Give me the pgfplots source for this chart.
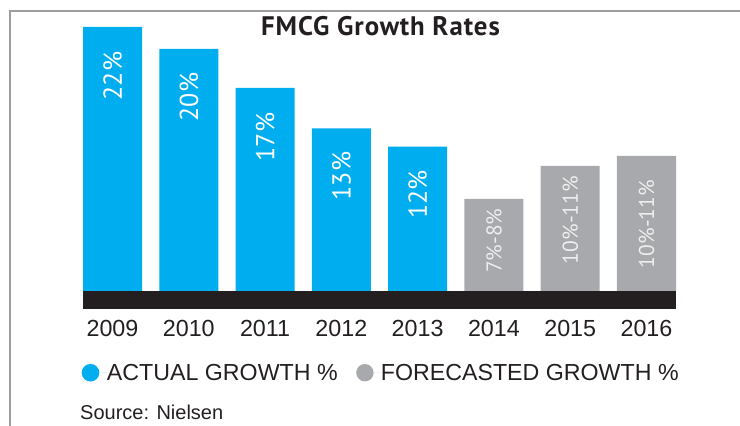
\documentclass[border=0pt]{standalone}
\usepackage{pgfplots}
\pgfplotsset{compat=1.18}
\usepackage{fontspec}
\setmainfont{Liberation Sans}
\newfontfamily\ptsans{PT Sans}
\newfontfamily\titlefont[LetterSpace=3.5]{PT Sans}
\definecolor{actual}{HTML}{00AEEF}
\definecolor{fcast}{HTML}{A7A9AC}
\definecolor{ink}{HTML}{231F20}
\definecolor{framec}{HTML}{9D9D9D}
\definecolor{lbl}{HTML}{EEEEEE}
\begin{document}
\begin{tikzpicture}
\draw[framec, line width=2.5pt] (10pt,-5pt) -- (10pt,415pt) -- (750pt,415pt);
\begin{axis}[
  at={(74.36pt,117pt)}, anchor=south west, scale only axis,
  width=610.28pt, height=294pt,
  xmin=-0.5, xmax=7.5, ymin=-1.5, ymax=23,
  clip=false,
  axis line style={draw=none},
  tick style={draw=none},
  ytick=\empty,
  xtick={0,...,7},
  xticklabels={2009,2010,2011,2012,2013,2014,2015,2016},
  xticklabel style={font=\fontsize{23.3}{28}\selectfont, text=ink, inner sep=0pt, anchor=north, yshift=-11pt},
  title={FMCG Growth Rates},
  title style={at={(0.5017,0.9092)}, anchor=base, font=\titlefont\bfseries\fontsize{26.8}{30}\selectfont, text=ink, inner sep=0pt},
  legend columns=2,
  legend style={at={(0.01203,-0.2167)}, anchor=west, draw=none, fill=none, inner sep=0pt, outer sep=0pt,
    font=\fontsize{23.2}{28}\selectfont, nodes={inner sep=0pt, text depth=0pt, text=ink},
    /tikz/every even column/.append style={column sep=18.5pt}},
  /pgf/number format/assume math mode=true,
]
\addplot[fill=ink, draw=none, forget plot] coordinates {(-0.387,-1.5) (7.387,-1.5) (7.387,0) (-0.387,0)} -- cycle;

\addplot[ybar, bar width=59pt, bar shift=0pt, fill=actual, draw=none,
  legend image code/.code={\fill[actual] (8.8pt,0pt) circle (8.8pt); \path (0pt,0pt) -- (25.3pt,0pt);},
  visualization depends on={value \thisrow{lo} \as \lo},
  visualization depends on={value \thisrow{off} \as \off},
  nodes near coords={\lo\%},
  nodes near coords style={yshift=-\off pt, rotate=90, anchor=east, inner sep=0pt, text depth=0pt,
    font=\ptsans\fontsize{26}{30}\selectfont, text=white},
] table {
x y lo off
0 22.00 22 24.7
1 20.17 20 23.7
2 16.92 17 24.7
3 13.56 13 23.4
4 12.03 12 23.3
};
\addlegendentry{ACTUAL GROWTH \%}

\addplot[ybar, bar width=59pt, bar shift=0pt, fill=fcast, draw=none,
  legend image code/.code={\fill[fcast] (8.7pt,0pt) circle (8.7pt); \path (0pt,0pt) -- (24.7pt,0pt);},
  visualization depends on={value \thisrow{lo} \as \lo},
  visualization depends on={value \thisrow{hi} \as \hi},
  visualization depends on={value \thisrow{off} \as \off},
  nodes near coords={\lo\%-\hi\%},
  nodes near coords style={yshift=-\off pt, rotate=90, anchor=east, inner sep=0pt, text depth=0pt,
    font=\ptsans\fontsize{21.5}{26}\selectfont, text=lbl},
] table {
x y lo hi off
5 7.67 7 8 9.3
6 10.42 10 11 10
7 11.25 10 11 24
};
\addlegendentry{FORECASTED GROWTH \%}
\end{axis}
\node[anchor=base west, inner sep=0pt, text=ink, font=\fontsize{20}{24}\selectfont] at (80pt,6.7pt) {Source: Nielsen};
\pgfresetboundingbox
\useasboundingbox (0,0) rectangle (740pt,426pt);
\end{tikzpicture}
\end{document}
